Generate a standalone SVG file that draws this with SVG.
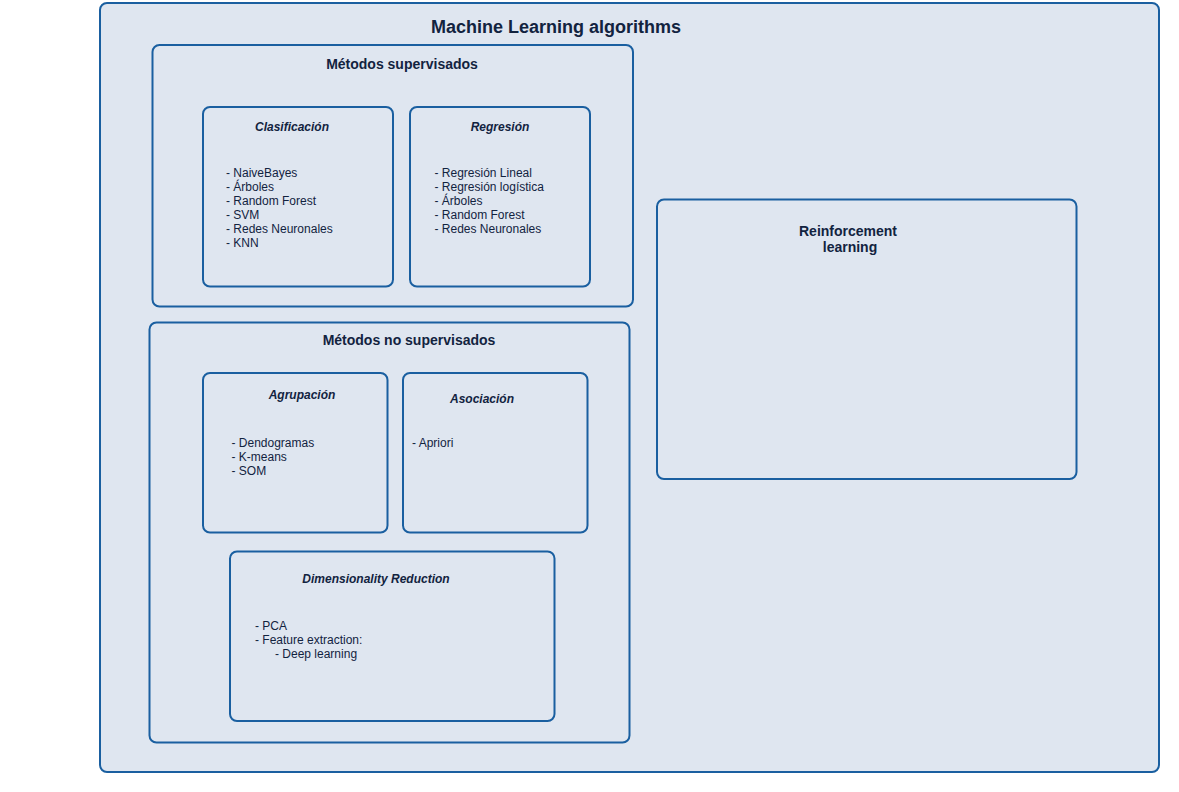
<svg xmlns="http://www.w3.org/2000/svg" width="1179" height="792" viewBox="0 0 1179 792">
<style>
.box{fill:#dfe6f0;stroke:#1a5fa0;stroke-width:2}
.inner{fill:none;stroke:#1a5fa0;stroke-width:2}
text{font-family:"Liberation Sans",Arial,sans-serif;fill:#12233f}
.t1{font-size:18px;font-weight:bold;text-anchor:middle}
.t2{font-size:14px;font-weight:bold;text-anchor:middle}
.t3{font-size:12px;font-weight:bold;font-style:italic;text-anchor:middle}
.li{font-size:12px}
</style>
<rect width="1179" height="792" fill="#ffffff"/>
<g id="ml">
<rect class="box" x="100" y="3" width="1059" height="769" rx="7"/>
<text class="t1" x="556" y="33">Machine Learning algorithms</text>
</g>
<g id="supervisados">
<rect class="inner" x="152.5" y="45" width="480.5" height="261.5" rx="7"/>
<text class="t2" x="402" y="69">Métodos supervisados</text>
</g>
<g id="clasificacion">
<rect class="inner" x="203" y="107" width="190" height="179.5" rx="7"/>
<text class="t3" x="292" y="131">Clasificación</text>
<text class="li" x="226" y="177">- NaiveBayes</text>
<text class="li" x="226" y="191">- Árboles</text>
<text class="li" x="226" y="205">- Random Forest</text>
<text class="li" x="226" y="219">- SVM</text>
<text class="li" x="226" y="233">- Redes Neuronales</text>
<text class="li" x="226" y="247">- KNN</text>
</g>
<g id="regresion">
<rect class="inner" x="410" y="107" width="180" height="179.5" rx="7"/>
<text class="t3" x="500" y="131">Regresión</text>
<text class="li" x="434.5" y="177">- Regresión Lineal</text>
<text class="li" x="434.5" y="191">- Regresión logística</text>
<text class="li" x="434.5" y="205">- Árboles</text>
<text class="li" x="434.5" y="219">- Random Forest</text>
<text class="li" x="434.5" y="233">- Redes Neuronales</text>
</g>
<g id="nosupervisados">
<rect class="inner" x="149.5" y="322.5" width="480" height="420" rx="7"/>
<text class="t2" x="409" y="345">Métodos no supervisados</text>
</g>
<g id="agrupacion">
<rect class="inner" x="203" y="373" width="184.5" height="159.5" rx="7"/>
<text class="t3" x="302" y="399">Agrupación</text>
<text class="li" x="231.5" y="447">- Dendogramas</text>
<text class="li" x="231.5" y="461">- K-means</text>
<text class="li" x="231.5" y="475">- SOM</text>
</g>
<g id="asociacion">
<rect class="inner" x="403" y="373" width="184.5" height="159.5" rx="7"/>
<text class="t3" x="482" y="403">Asociación</text>
<text class="li" x="412" y="447">- Apriori</text>
</g>
<g id="dimred">
<rect class="inner" x="230" y="551.5" width="324.5" height="169.5" rx="7"/>
<text class="t3" x="376" y="583">Dimensionality Reduction</text>
<text class="li" x="255" y="630">- PCA</text>
<text class="li" x="255" y="644">- Feature extraction:</text>
<text class="li" x="275" y="658">- Deep learning</text>
</g>
<g id="reinforcement">
<rect class="inner" x="657" y="199.5" width="419.5" height="279.5" rx="7"/>
<text class="t2" x="848" y="236">Reinforcement</text>
<text class="t2" x="850" y="252">learning</text>
</g>
<g id="connectors"></g>
</svg>
